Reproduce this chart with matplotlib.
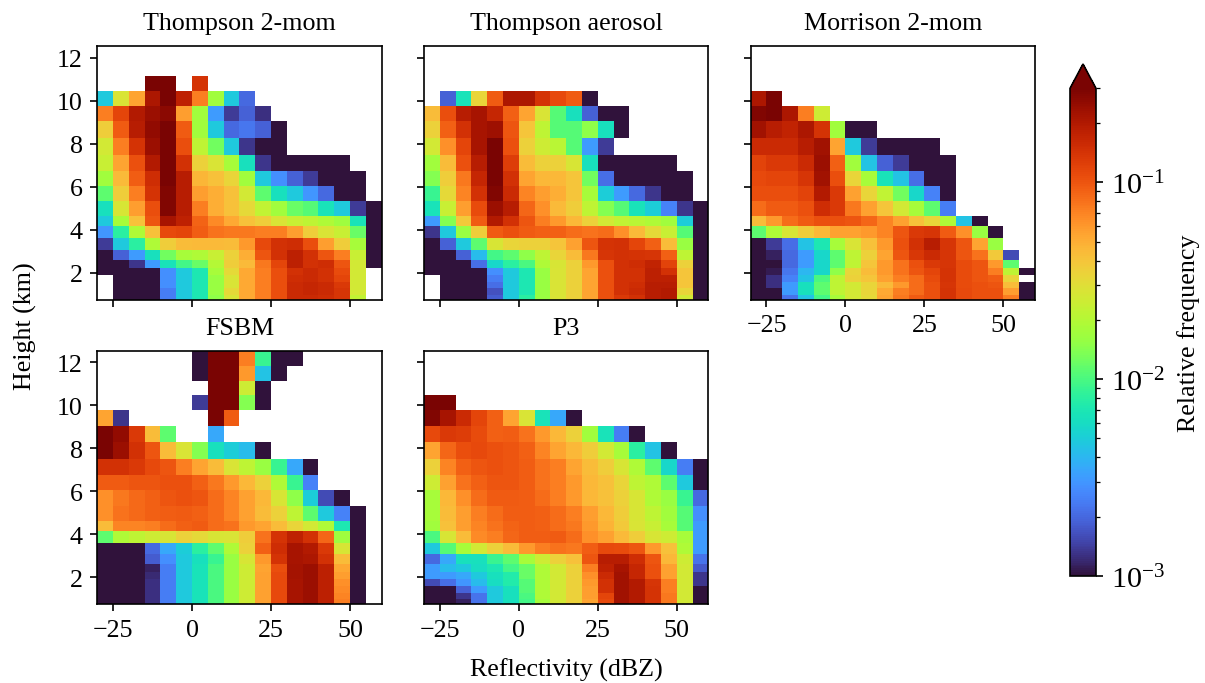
import numpy as np
import matplotlib
matplotlib.use("Agg")
import matplotlib.pyplot as plt
from matplotlib.colors import LogNorm

plt.rcParams["font.family"] = "serif"
plt.rcParams["font.serif"] = ["Liberation Serif", "DejaVu Serif"]
plt.rcParams["mathtext.fontset"] = "stix"
plt.rcParams["font.size"] = 12.5
plt.rcParams["axes.titlesize"] = 12.5
plt.rcParams["axes.labelsize"] = 12.5
plt.rcParams["xtick.labelsize"] = 12.5
plt.rcParams["ytick.labelsize"] = 12.5

n = np.nan

# Reflectivity bin edges (dBZ) and model-level height edges (km, top to bottom)
dbz_edges = np.arange(-30, 61, 5)
height_edges = [12.55, 11.85, 11.15, 10.46, 9.77, 9.05, 8.28, 7.50, 6.75, 6.04,
                5.33, 4.63, 4.17, 3.62, 3.08, 2.60, 2.23, 1.91, 1.59, 1.28, 0.99, 0.76]

# log10 of relative frequency, rows top to bottom, columns -30..60 dBZ
thompson_2mom = [
    [n, n, n, n, n, n, n, n, n, n, n, n, n, n, n, n, n, n],
    [n, n, n, n, n, n, n, n, n, n, n, n, n, n, n, n, n, n],
    [n, n, n, -0.45, -0.45, n, -0.85, n, n, n, n, n, n, n, n, n, n, n],
    [-2.32, -1.55, -1.26, -0.68, -0.45, -0.75, -1.14, -1.77, -2.32, -2.70, n, n, n, n, n, n, n, n],
    [-1.14, -0.93, -0.70, -0.62, -0.58, -1.24, -1.77, -2.50, -2.86, -2.72, -2.90, n, n, n, n, n, n, n],
    [-1.44, -1.02, -0.72, -0.60, -0.50, -1.02, -1.77, -2.32, -2.70, -2.65, -2.72, -3.0, n, n, n, n, n, n],
    [-1.58, -1.14, -0.85, -0.62, -0.45, -0.97, -1.66, -1.90, -2.32, -2.88, -3.0, -3.0, n, n, n, n, n, n],
    [-1.62, -1.26, -0.98, -0.70, -0.45, -0.84, -1.46, -1.55, -1.75, -2.20, -2.88, -3.0, -3.0, -3.0, -3.0, -3.0, n, n],
    [-1.77, -1.35, -1.03, -0.82, -0.50, -0.72, -1.33, -1.38, -1.48, -1.77, -2.32, -2.55, -2.72, -2.86, -3.0, -3.0, -3.0, n],
    [-1.95, -1.44, -1.14, -0.85, -0.55, -0.72, -1.24, -1.30, -1.38, -1.58, -1.95, -2.20, -2.32, -2.52, -2.70, -3.0, -3.0, n],
    [-2.20, -1.56, -1.24, -0.97, -0.55, -0.72, -1.14, -1.30, -1.38, -1.50, -1.65, -1.77, -1.92, -1.97, -2.18, -2.32, -2.86, -3.0],
    [-2.32, -1.75, -1.38, -1.00, -0.66, -0.75, -1.05, -1.18, -1.28, -1.38, -1.44, -1.55, -1.62, -1.66, -1.72, -1.78, -2.18, -3.0],
    [-2.52, -2.10, -1.72, -1.38, -0.95, -0.93, -1.03, -1.10, -1.12, -1.12, -1.14, -1.14, -1.24, -1.44, -1.55, -1.62, -1.92, -3.0],
    [-2.86, -2.32, -2.10, -1.72, -1.44, -1.36, -1.35, -1.35, -1.36, -1.22, -0.95, -0.84, -0.82, -0.97, -1.24, -1.44, -1.75, -3.0],
    [-3.0, -2.72, -2.50, -2.20, -1.90, -1.75, -1.72, -1.62, -1.46, -1.30, -1.00, -0.84, -0.74, -0.84, -1.00, -1.14, -1.62, -3.0],
    [-3.0, -3.0, -2.88, -2.50, -2.18, -2.02, -1.92, -1.70, -1.44, -1.35, -1.12, -0.93, -0.74, -0.84, -0.82, -1.00, -1.58, -3.0],
    [-3.0, -3.0, -3.0, -3.0, -2.55, -2.32, -2.15, -1.75, -1.50, -1.28, -1.14, -0.97, -0.84, -0.80, -0.84, -0.96, -1.58, n],
    [n, -3.0, -3.0, -3.0, -2.55, -2.32, -2.15, -1.80, -1.55, -1.28, -1.14, -0.97, -0.82, -0.80, -0.84, -0.93, -1.58, n],
    [n, -3.0, -3.0, -3.0, -2.55, -2.32, -2.15, -1.80, -1.55, -1.28, -1.14, -0.97, -0.80, -0.78, -0.80, -0.88, -1.58, n],
    [n, -3.0, -3.0, -3.0, -2.62, -2.32, -2.15, -1.80, -1.50, -1.28, -1.14, -0.97, -0.80, -0.78, -0.80, -0.86, -1.58, n],
    [n, -3.0, -3.0, -3.0, -2.62, -2.32, -2.15, -1.82, -1.55, -1.28, -1.14, -0.97, -0.80, -0.80, -0.82, -0.86, -1.65, n],
]

thompson_aerosol = [
    [n, n, n, n, n, n, n, n, n, n, n, n, n, n, n, n, n, n],
    [n, n, n, n, n, n, n, n, n, n, n, n, n, n, n, n, n, n],
    [n, n, n, n, n, n, n, n, n, n, n, n, n, n, n, n, n, n],
    [n, -2.72, -2.18, -1.48, -1.02, -0.68, -0.68, -0.85, -0.95, -1.02, -3.0, n, n, n, n, n, n, n],
    [-1.36, -0.97, -0.72, -0.66, -0.78, -1.04, -1.26, -1.55, -1.97, -2.20, -2.72, -3.0, -3.0, n, n, n, n, n],
    [-1.46, -1.04, -0.84, -0.66, -0.63, -1.00, -1.40, -1.66, -1.97, -1.97, -1.82, -2.20, -3.0, n, n, n, n, n],
    [-1.58, -1.20, -0.93, -0.66, -0.45, -0.98, -1.46, -1.60, -1.68, -1.97, -2.50, -2.86, n, n, n, n, n, n],
    [-1.77, -1.36, -0.98, -0.72, -0.45, -0.90, -1.36, -1.46, -1.46, -1.56, -2.20, -3.0, -3.0, -3.0, -3.0, -3.0, n, n],
    [-1.85, -1.44, -1.12, -0.78, -0.47, -0.84, -1.26, -1.34, -1.34, -1.40, -1.90, -2.68, -3.0, -3.0, -3.0, -3.0, -3.0, n],
    [-2.05, -1.50, -1.16, -0.84, -0.55, -0.80, -1.16, -1.24, -1.30, -1.40, -1.75, -2.30, -2.50, -2.70, -2.88, -3.0, -3.0, n],
    [-2.18, -1.62, -1.24, -0.96, -0.62, -0.72, -1.06, -1.20, -1.35, -1.44, -1.66, -1.85, -1.97, -2.18, -2.30, -2.60, -2.88, -3.0],
    [-2.50, -1.85, -1.42, -1.02, -0.70, -0.84, -1.00, -1.14, -1.22, -1.34, -1.46, -1.58, -1.65, -1.68, -1.72, -1.77, -2.30, -3.0],
    [-2.88, -2.32, -1.80, -1.44, -1.02, -0.98, -1.02, -1.04, -1.04, -1.08, -1.10, -1.08, -1.20, -1.35, -1.50, -1.62, -1.97, -3.0],
    [-3.0, -2.72, -2.32, -1.95, -1.56, -1.48, -1.46, -1.46, -1.40, -1.25, -1.00, -0.85, -0.84, -0.93, -1.04, -1.36, -1.80, -3.0],
    [-3.0, -3.0, -2.72, -2.38, -2.02, -1.95, -1.82, -1.66, -1.48, -1.36, -1.12, -0.86, -0.84, -0.85, -0.86, -1.04, -1.66, -3.0],
    [-3.0, -3.0, -3.0, -2.68, -2.25, -2.10, -2.00, -1.72, -1.56, -1.46, -1.22, -0.98, -0.84, -0.82, -0.76, -0.92, -1.46, -3.0],
    [-3.0, -3.0, -3.0, -3.0, -2.55, -2.32, -2.15, -1.80, -1.55, -1.46, -1.26, -0.98, -0.84, -0.84, -0.74, -0.84, -1.40, -3.0],
    [n, -3.0, -3.0, -3.0, -2.62, -2.32, -2.15, -1.80, -1.55, -1.46, -1.26, -0.98, -0.84, -0.84, -0.74, -0.74, -1.40, -3.0],
    [n, -3.0, -3.0, -3.0, -2.68, -2.32, -2.15, -1.80, -1.55, -1.46, -1.26, -0.98, -0.84, -0.82, -0.72, -0.72, -1.40, -3.0],
    [n, -3.0, -3.0, -3.0, -2.78, -2.32, -2.15, -1.80, -1.55, -1.46, -1.26, -0.98, -0.84, -0.80, -0.72, -0.70, -1.48, -3.0],
    [n, -3.0, -3.0, -3.0, -2.74, -2.32, -2.10, -1.80, -1.55, -1.46, -1.26, -0.98, -0.88, -0.84, -0.72, -0.70, -1.58, -3.0],
]

morrison_2mom = [
    [n, n, n, n, n, n, n, n, n, n, n, n, n, n, n, n, n, n],
    [n, n, n, n, n, n, n, n, n, n, n, n, n, n, n, n, n, n],
    [n, n, n, n, n, n, n, n, n, n, n, n, n, n, n, n, n, n],
    [-0.68, -0.45, n, n, n, n, n, n, n, n, n, n, n, n, n, n, n, n],
    [-0.55, -0.45, -0.68, -1.14, -1.60, n, n, n, n, n, n, n, n, n, n, n, n, n],
    [-0.64, -0.72, -0.76, -0.68, -0.85, -1.77, -3.0, -3.0, n, n, n, n, n, n, n, n, n, n],
    [-0.80, -0.80, -0.80, -0.72, -0.64, -1.26, -2.32, -2.86, -3.0, -3.0, -3.0, -3.0, n, n, n, n, n, n],
    [-0.92, -0.88, -0.88, -0.80, -0.62, -1.04, -1.77, -2.35, -2.72, -2.86, -3.0, -3.0, -3.0, n, n, n, n, n],
    [-0.95, -0.93, -0.93, -0.86, -0.64, -0.97, -1.48, -1.75, -2.18, -2.35, -2.68, -3.0, -3.0, n, n, n, n, n],
    [-0.97, -0.97, -0.97, -0.92, -0.70, -0.88, -1.25, -1.48, -1.65, -1.90, -2.25, -2.60, -3.0, n, n, n, n, n],
    [-1.08, -1.02, -1.02, -0.98, -0.82, -0.88, -1.12, -1.25, -1.40, -1.58, -1.75, -1.95, -2.62, n, n, n, n, n],
    [-1.36, -1.22, -1.08, -1.02, -0.98, -0.98, -1.00, -1.06, -1.16, -1.25, -1.38, -1.48, -1.72, -2.35, -3.0, n, n, n],
    [-1.95, -1.72, -1.56, -1.44, -1.34, -1.25, -1.25, -1.22, -1.16, -1.00, -0.88, -0.86, -1.02, -1.20, -1.80, -3.0, n, n],
    [-3.0, -2.86, -2.68, -2.35, -2.15, -1.75, -1.55, -1.38, -1.22, -0.98, -0.84, -0.72, -0.86, -1.00, -1.26, -1.80, n, n],
    [-3.0, -2.95, -2.70, -2.50, -2.25, -1.95, -1.66, -1.46, -1.26, -1.00, -0.87, -0.80, -0.86, -1.00, -1.10, -1.42, -2.80, n],
    [-3.0, -3.0, -2.70, -2.50, -2.25, -1.95, -1.66, -1.40, -1.22, -1.10, -0.98, -0.88, -0.86, -0.96, -1.00, -1.22, -1.95, n],
    [-3.0, -2.97, -2.65, -2.40, -2.25, -1.82, -1.48, -1.36, -1.22, -1.10, -1.00, -0.93, -0.85, -0.96, -1.00, -1.14, -1.66, -3.0],
    [-3.0, -2.90, -2.60, -2.35, -2.00, -1.66, -1.46, -1.40, -1.25, -1.14, -1.08, -0.96, -0.85, -0.96, -1.00, -1.03, -1.48, n],
    [-3.0, -2.90, -2.50, -2.20, -1.95, -1.66, -1.58, -1.48, -1.35, -1.22, -1.08, -0.98, -0.86, -0.96, -0.98, -1.00, -1.36, -3.0],
    [-3.0, -3.0, -2.50, -2.20, -1.95, -1.66, -1.58, -1.48, -1.28, -1.14, -1.08, -0.98, -0.85, -0.95, -0.98, -0.98, -1.24, -3.0],
    [-3.0, -3.0, -2.66, -2.35, -2.02, -1.75, -1.58, -1.50, -1.26, -1.12, -1.02, -0.98, -0.85, -0.95, -0.98, -0.98, -1.14, -3.0],
]

fsbm = [
    [n, n, n, n, n, n, -3.0, -0.45, -0.45, -1.14, -2.05, -3.0, -3.0, n, n, n, n, n],
    [n, n, n, n, n, n, -3.0, -0.45, -0.45, -1.22, -2.35, -3.0, n, n, n, n, n, n],
    [n, n, n, n, n, n, n, -0.45, -0.45, -1.60, -3.0, n, n, n, n, n, n, n],
    [n, n, n, n, n, n, -2.86, -0.45, -0.45, -1.85, -3.0, n, n, n, n, n, n, n],
    [-1.26, -2.88, n, n, n, n, n, -0.45, -1.02, n, n, n, n, n, n, n, n, n],
    [-0.45, -0.60, -0.88, -1.36, -1.95, n, n, -2.45, n, n, n, n, n, n, n, n, n, n],
    [-0.45, -0.62, -0.84, -1.00, -1.36, -1.55, -1.85, -2.20, -2.30, -2.38, -3.0, n, n, n, n, n, n, n],
    [-0.84, -0.84, -0.88, -0.95, -1.00, -1.14, -1.26, -1.36, -1.55, -1.66, -1.80, -2.05, -2.45, -3.0, n, n, n, n],
    [-1.02, -1.02, -1.00, -1.00, -0.98, -0.98, -1.04, -1.12, -1.22, -1.34, -1.46, -1.72, -2.05, -2.60, n, n, n, n],
    [-1.20, -1.12, -1.07, -1.04, -1.00, -0.98, -1.00, -1.08, -1.16, -1.25, -1.34, -1.56, -1.82, -2.30, -2.80, -3.0, n, n],
    [-1.20, -1.10, -1.07, -1.04, -1.03, -1.02, -1.04, -1.08, -1.16, -1.25, -1.36, -1.46, -1.66, -1.95, -2.32, -2.60, -3.0, n],
    [-1.36, -1.16, -1.16, -1.14, -1.08, -1.04, -1.02, -1.08, -1.10, -1.22, -1.26, -1.36, -1.48, -1.58, -1.72, -2.15, -3.0, n],
    [-1.95, -1.72, -1.66, -1.60, -1.56, -1.46, -1.50, -1.56, -1.55, -1.44, -1.10, -0.85, -0.75, -0.84, -1.06, -1.78, -3.0, n],
    [-3.0, -3.0, -3.0, -2.70, -2.45, -2.30, -2.10, -1.95, -1.72, -1.46, -1.04, -0.82, -0.66, -0.70, -0.88, -1.56, -3.0, n],
    [-3.0, -3.0, -3.0, -2.74, -2.55, -2.32, -2.20, -2.05, -1.80, -1.56, -1.22, -0.85, -0.66, -0.68, -0.84, -1.36, -3.0, n],
    [-3.0, -3.0, -3.0, -2.95, -2.62, -2.32, -2.18, -2.00, -1.80, -1.60, -1.26, -0.97, -0.65, -0.62, -0.74, -1.27, -3.0, n],
    [-3.0, -3.0, -3.0, -2.92, -2.62, -2.32, -2.18, -2.00, -1.80, -1.60, -1.25, -0.95, -0.65, -0.62, -0.74, -1.24, -3.0, n],
    [-3.0, -3.0, -3.0, -2.90, -2.62, -2.32, -2.18, -2.00, -1.80, -1.60, -1.25, -0.95, -0.66, -0.62, -0.74, -1.20, -3.0, n],
    [-3.0, -3.0, -3.0, -2.90, -2.62, -2.32, -2.18, -2.00, -1.80, -1.60, -1.25, -0.95, -0.66, -0.62, -0.74, -1.18, -3.0, n],
    [-3.0, -3.0, -3.0, -2.90, -2.62, -2.32, -2.18, -2.00, -1.80, -1.60, -1.25, -0.95, -0.66, -0.62, -0.74, -1.16, -3.0, n],
    [-3.0, -3.0, -3.0, -2.90, -2.62, -2.32, -2.18, -2.00, -1.80, -1.60, -1.25, -0.95, -0.66, -0.62, -0.74, -1.14, -3.0, n],
]

p3 = [
    [n, n, n, n, n, n, n, n, n, n, n, n, n, n, n, n, n, n],
    [n, n, n, n, n, n, n, n, n, n, n, n, n, n, n, n, n, n],
    [n, n, n, n, n, n, n, n, n, n, n, n, n, n, n, n, n, n],
    [-0.45, -0.50, n, n, n, n, n, n, n, n, n, n, n, n, n, n, n, n],
    [-0.55, -0.66, -0.80, -0.93, -1.04, -1.26, -1.55, -2.18, -2.45, -3.0, n, n, n, n, n, n, n, n],
    [-0.95, -0.88, -0.90, -0.96, -1.04, -1.03, -1.10, -1.22, -1.34, -1.46, -1.77, -2.18, -2.62, -3.0, n, n, n, n],
    [-1.26, -1.06, -0.97, -0.95, -0.98, -1.00, -1.04, -1.16, -1.26, -1.34, -1.44, -1.58, -1.75, -2.10, -2.35, -3.0, n, n],
    [-1.46, -1.16, -1.04, -1.00, -0.98, -1.00, -1.03, -1.10, -1.14, -1.26, -1.36, -1.44, -1.56, -1.72, -1.95, -2.25, -2.62, -3.0],
    [-1.60, -1.25, -1.10, -1.04, -1.00, -1.00, -1.03, -1.10, -1.14, -1.22, -1.34, -1.38, -1.48, -1.66, -1.72, -1.95, -2.32, -3.0],
    [-1.75, -1.34, -1.20, -1.08, -1.02, -1.02, -1.03, -1.08, -1.14, -1.22, -1.34, -1.38, -1.46, -1.56, -1.72, -1.80, -2.05, -2.70],
    [-1.75, -1.36, -1.24, -1.14, -1.08, -1.03, -1.03, -1.04, -1.08, -1.14, -1.24, -1.34, -1.44, -1.56, -1.66, -1.77, -1.97, -2.55],
    [-1.77, -1.38, -1.24, -1.16, -1.10, -1.05, -1.03, -1.04, -1.08, -1.12, -1.22, -1.32, -1.42, -1.55, -1.62, -1.75, -1.97, -2.50],
    [-2.00, -1.56, -1.36, -1.18, -1.14, -1.06, -1.03, -1.03, -1.02, -1.08, -1.20, -1.25, -1.35, -1.44, -1.56, -1.60, -1.75, -2.50],
    [-2.32, -1.97, -1.75, -1.58, -1.46, -1.36, -1.22, -1.14, -1.10, -1.12, -1.03, -0.95, -0.96, -1.00, -1.22, -1.38, -1.72, -2.50],
    [-2.70, -2.45, -2.20, -2.20, -2.05, -1.95, -1.75, -1.60, -1.46, -1.38, -1.00, -0.72, -0.72, -0.82, -1.00, -1.34, -1.60, -2.66],
    [-2.50, -2.38, -2.32, -2.22, -2.15, -2.02, -1.92, -1.72, -1.58, -1.46, -1.14, -0.75, -0.66, -0.78, -0.98, -1.25, -1.58, -2.75],
    [-2.50, -2.50, -2.45, -2.32, -2.20, -2.12, -1.92, -1.72, -1.58, -1.46, -1.20, -0.80, -0.64, -0.78, -0.98, -1.25, -1.58, -2.88],
    [-2.80, -2.68, -2.52, -2.38, -2.22, -2.12, -1.97, -1.72, -1.58, -1.46, -1.22, -0.84, -0.64, -0.70, -0.86, -1.14, -1.58, -2.88],
    [-3.0, -3.0, -2.72, -2.50, -2.32, -2.20, -1.97, -1.72, -1.58, -1.46, -1.24, -0.84, -0.64, -0.70, -0.85, -1.14, -1.58, -3.0],
    [-3.0, -3.0, -2.88, -2.66, -2.32, -2.20, -2.00, -1.72, -1.58, -1.46, -1.24, -0.93, -0.64, -0.70, -0.85, -1.12, -1.58, -3.0],
    [-3.0, -3.0, -2.95, -2.66, -2.32, -2.20, -2.02, -1.75, -1.58, -1.46, -1.26, -0.95, -0.64, -0.70, -0.85, -1.12, -1.58, -3.0],
]

scheme_names = ["Thompson 2-mom", "Thompson aerosol", "Morrison 2-mom", "FSBM", "P3"]
scheme_data = [thompson_2mom, thompson_aerosol, morrison_2mom, fsbm, p3]

xticks = [-25, 0, 25, 50]
yticks = [2, 4, 6, 8, 10, 12]

W, H = 1206, 684
fig = plt.figure(figsize=(W / 150, H / 150), dpi=150)

panel_w, panel_h = 284.4 / W, 253.5 / H
lefts = [97.3 / W, 424.0 / W, 750.7 / W]
row_bottoms = [1 - 300.5 / H, 1 - 605.0 / H]
slots = [(0, 0), (0, 1), (0, 2), (1, 0), (1, 1)]

norm = LogNorm(vmin=1e-3, vmax=0.3)
mesh = None
axes = []
for name, data, (r, c) in zip(scheme_names, scheme_data, slots):
    ax = fig.add_axes([lefts[c], row_bottoms[r], panel_w, panel_h])
    freq = np.ma.masked_invalid(10.0 ** np.array(data, dtype=float))
    mesh = ax.pcolormesh(dbz_edges, height_edges, freq, cmap="turbo", norm=norm,
                         shading="flat")
    ax.set_xlim(-30, 60)
    ax.set_ylim(height_edges[-1], height_edges[0])
    ax.set_xticks(xticks)
    ax.set_yticks(yticks)
    ax.set_title(name, pad=8)
    if c != 0:
        ax.tick_params(labelleft=False)
    if r == 0 and c in (0, 1):
        ax.tick_params(labelbottom=False)
    axes.append(ax)

axes[4].set_xlabel("Reflectivity (dBZ)", labelpad=8)
fig.text(25 / W, 1 - 326 / H, "Height (km)", rotation=90, ha="center", va="center")

cax = fig.add_axes([1070 / W, 1 - 577 / H, 26 / W, (577 - 65) / H])
cbar = fig.colorbar(mesh, cax=cax, extend="max")
cbar.ax.tick_params(labelsize=14.5)
cbar.set_label("Relative frequency", labelpad=6)

fig.savefig("out.png", dpi=150)
